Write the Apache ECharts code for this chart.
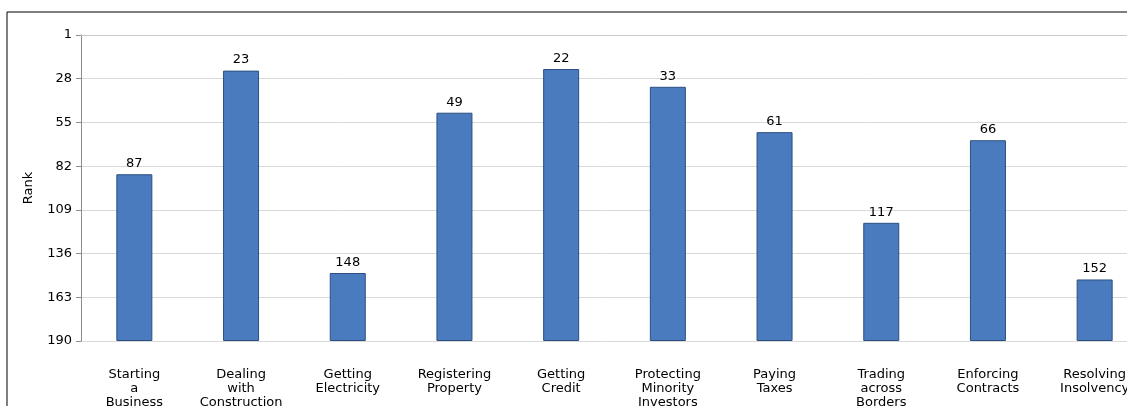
<!DOCTYPE html>
<html>
<head>
<meta charset="utf-8">
<script src="https://cdn.jsdelivr.net/npm/echarts@6/dist/echarts.min.js"></script>
<style>
	html, body { margin: 0; padding: 0; background: #fff; }
	#chart { width: 1127px; height: 406px; }
</style>
</head>
<body>
<div id="chart"></div>
<script>
// categories and ranks (lower rank = better, axis is inverted)
var categories = ['Starting a Business', 'Dealing with Construction Permits', 'Getting Electricity',
	'Registering Property', 'Getting Credit', 'Protecting Minority Investors', 'Paying Taxes',
	'Trading across Borders', 'Enforcing Contracts', 'Resolving Insolvency'];
var tickLabels = ['Starting\na\nBusiness', 'Dealing\nwith\nConstruction\nPermits', 'Getting\nElectricity',
	'Registering\nProperty', 'Getting\nCredit', 'Protecting\nMinority\nInvestors', 'Paying\nTaxes',
	'Trading\nacross\nBorders', 'Enforcing\nContracts', 'Resolving\nInsolvency'];
var ranks = [87, 23, 148, 49, 22, 33, 61, 117, 66, 152];
var rankMin = 1;
var rankMax = 190;
var rankStep = 27;

// axis runs 0..189 internally, shown as rank = value + 1
var base = ranks.map(function(r) { return r - rankMin; });
var bars = ranks.map(function(r) { return rankMax - r; });

var myChart = echarts.init(document.getElementById('chart'));
var option = {
	animation: false,
	textStyle: { fontFamily: 'DejaVu Sans' },
	grid: {
		left: 81,
		top: 35,
		width: 1067,
		height: 306,
		outerBoundsMode: 'none',
		containLabel: false
	},
	graphic: [
		{ type: 'line', shape: { x1: 7, y1: 12, x2: 1127, y2: 12 }, style: { stroke: '#000', lineWidth: 1 } },
		{ type: 'line', shape: { x1: 7, y1: 12, x2: 7, y2: 406 }, style: { stroke: '#000', lineWidth: 1 } }
	],
	xAxis: {
		type: 'category',
		data: categories,
		axisLine: { lineStyle: { color: '#c8c8c8' } },
		axisTick: { show: false },
		axisLabel: {
			interval: 0,
			margin: 27,
			color: '#000',
			fontSize: 13,
			lineHeight: 14,
			formatter: function(v, i) { return tickLabels[i]; }
		}
	},
	yAxis: {
		type: 'value',
		inverse: true,
		min: 0,
		max: rankMax - rankMin,
		interval: rankStep,
		name: 'Rank',
		nameLocation: 'middle',
		nameGap: 46,
		nameTextStyle: { color: '#000', fontSize: 13 },
		axisLine: { show: true, lineStyle: { color: '#8c8c8c' } },
		axisTick: { show: true, length: 5, lineStyle: { color: '#8c8c8c' } },
		axisLabel: {
			color: '#000',
			fontSize: 13,
			margin: 9,
			formatter: function(v) { return v + rankMin; }
		},
		splitLine: { lineStyle: { color: '#d9d9d9' } }
	},
	series: [
		{
			name: 'base',
			type: 'bar',
			stack: 'rank',
			data: base,
			barWidth: 36,
			itemStyle: { color: 'transparent' },
			silent: true
		},
		{
			name: 'Rank',
			type: 'bar',
			stack: 'rank',
			data: bars,
			barWidth: 36,
			itemStyle: { color: '#4a7bbe', borderColor: '#2b4f80', borderWidth: 1 },
			label: {
				show: true,
				position: 'top',
				distance: 4,
				color: '#000',
				fontSize: 13,
				formatter: function(p) { return ranks[p.dataIndex]; }
			}
		}
	]
};
myChart.setOption(option);
</script>
</body>
</html>
